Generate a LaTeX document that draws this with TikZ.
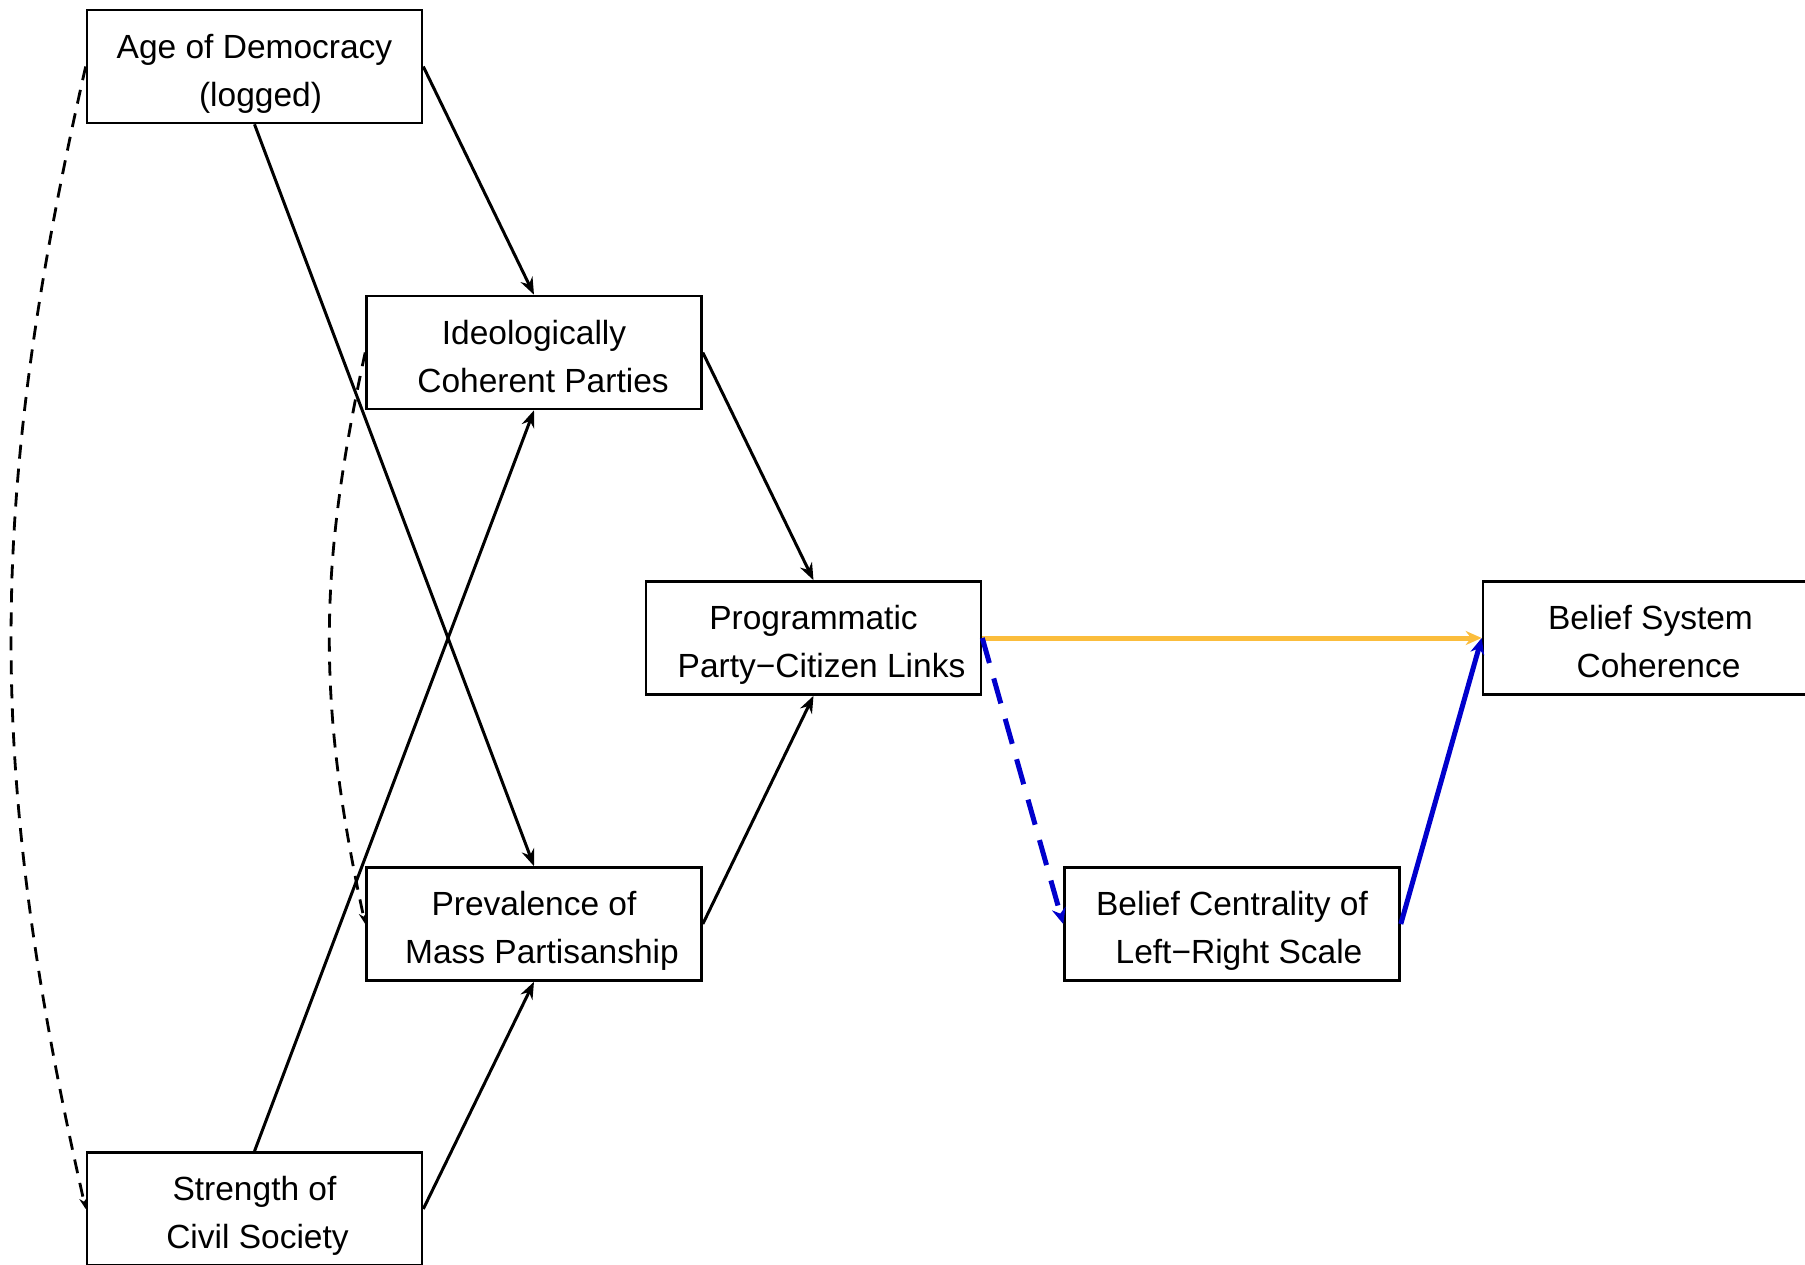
\documentclass[tikz,border=0pt]{standalone}
\usepackage{fontspec}
\setmainfont{Liberation Sans}
\usetikzlibrary{arrows.meta}
\definecolor{pathgold}{HTML}{FBBD3C}
\definecolor{pathblue}{HTML}{0000CC}
\newcommand{\twolines}[3]{\raisebox{-6pt}[\height][\depth]{\begin{tabular}{@{}c@{}}#1\\\hspace*{#3}#2\end{tabular}}}
\begin{document}
\begin{tikzpicture}[x=1pt,y=-1pt,
  varbox/.style={draw=black, line width=2.6pt, minimum width=335pt, minimum height=113pt,
    inner sep=0pt, align=center, font=\fontsize{33.5}{48}\selectfont, fill=white},
  pathline/.style={line width=3pt, -{Stealth[length=17pt,width=13pt]}},
  covline/.style={line width=2.8pt, dash pattern=on 14pt off 10pt, -{Stealth[length=11pt,width=8pt]}},
  goldline/.style={line width=5pt, draw=pathgold, -{Stealth[length=16pt,width=14pt]}},
  blueline/.style={line width=5pt, draw=pathblue, -{Stealth[length=16pt,width=14pt]}},
  bluedash/.style={line width=5pt, draw=pathblue, dash pattern=on 26pt off 16pt, -{Stealth[length=16pt,width=14pt]}}
]
\path[use as bounding box, clip] (0,0) rectangle (1805,1265);
\node[varbox] (age)  at (254.5,66.5) {\twolines{Age of Democracy}{(logged)}{12pt}};
\node[varbox] (ide)  at (534,352.5)  {\twolines{Ideologically}{Coherent Parties}{18pt}};
\node[varbox] (prog) at (813.5,638)  {\twolines{Programmatic}{Party−Citizen Links}{16pt}};
\node[varbox] (bsc)  at (1650.5,638) {\twolines{Belief System}{Coherence}{16pt}};
\node[varbox] (prev) at (534,924)    {\twolines{Prevalence of}{Mass Partisanship}{16pt}};
\node[varbox] (bcl)  at (1232,924)   {\twolines{Belief Centrality of}{Left−Right Scale}{14pt}};
\node[varbox] (str)  at (254.5,1209) {\twolines{Strength of}{Civil Society}{6pt}};

\draw[pathline] (age.east) -- (ide.north);
\draw[pathline] (age.south) -- (prev.north);
\draw[pathline] (ide.east) -- (prog.north);
\draw[pathline] (prev.east) -- (prog.south);
\draw[pathline] (str.north) -- (ide.south);
\draw[pathline] (str.east) -- (prev.south);

\draw[covline] (age.west) .. controls (-13.6,502) and (-13.6,773.5) .. (str.west);
\draw[covline] (ide.west) .. controls (317.6,571) and (317.6,705.6) .. (prev.west);

\draw[goldline] (prog.east) -- (bsc.west);
\draw[bluedash] (prog.east) -- (bcl.west);
\draw[blueline] (bcl.east) -- (bsc.west);
\end{tikzpicture}
\end{document}
